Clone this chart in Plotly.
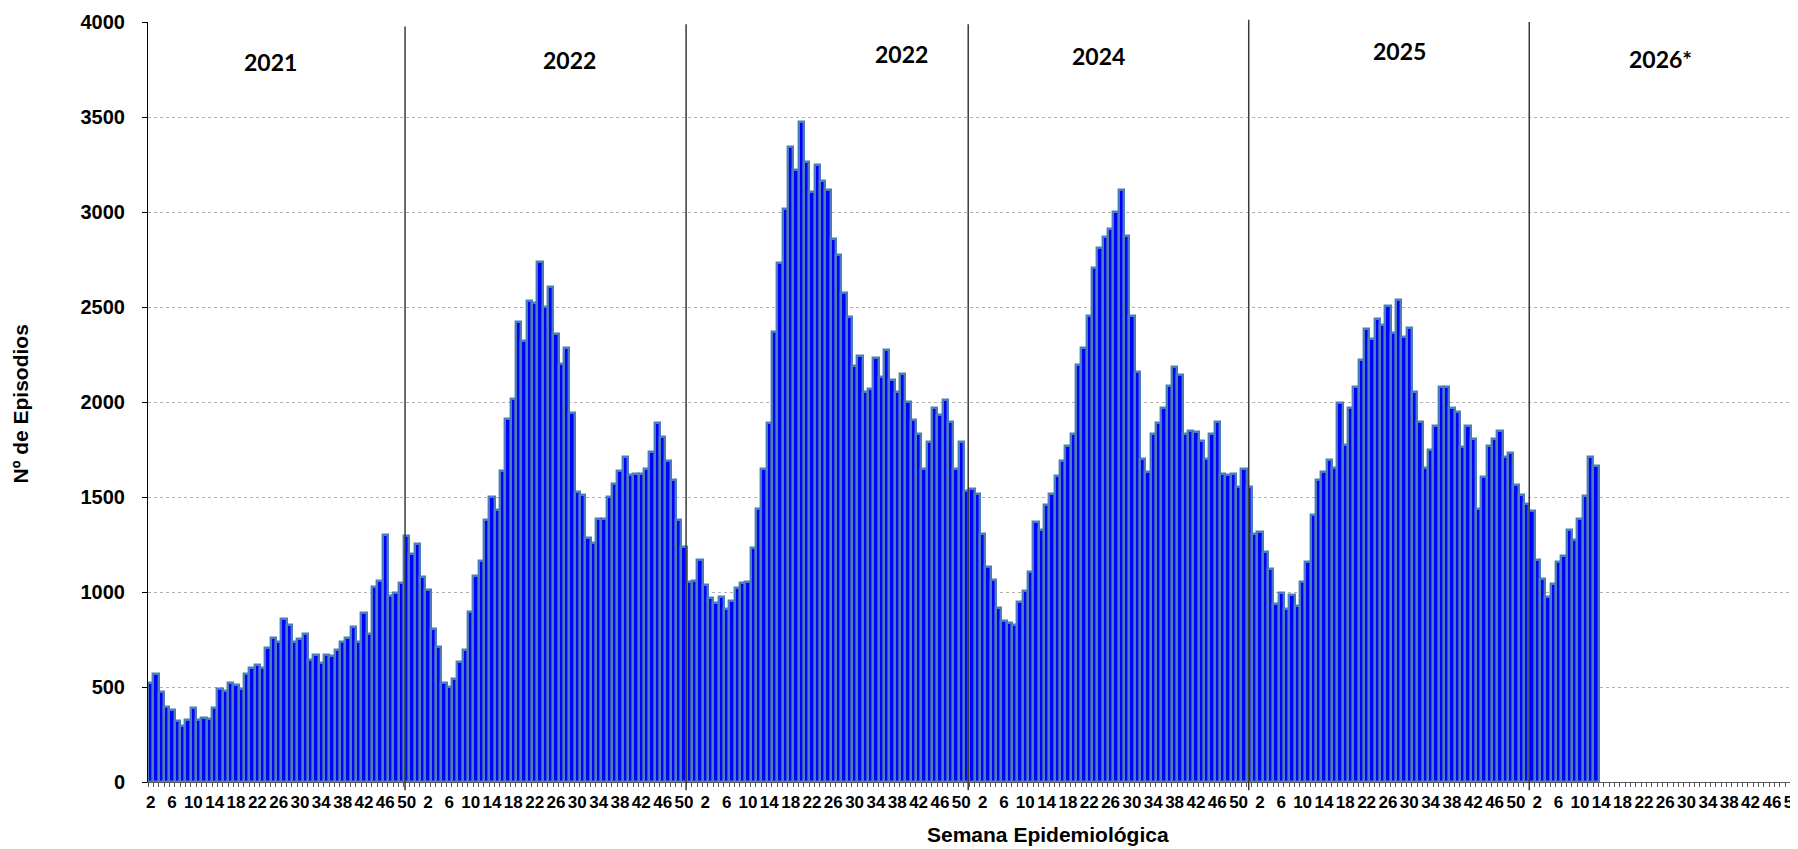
import plotly.graph_objects as go

# ---- data (weekly episodes) ----
years = ["2021", "2022", "2023", "2024", "2025", "2026"]
year_labels = ["2021", "2022", "2022", "2024", "2025", "2026*"]

weeks_2021 = list(range(2, 53))
weeks_full = list(range(1, 53))

cases_2021 = [521, 567, 474, 395, 381, 321, 296, 328, 388, 328, 339, 332, 388, 489, 479, 523, 511,
              489, 567, 598, 616, 602, 707, 760, 739, 858, 828, 735, 753, 777, 640, 668, 626, 668,
              661, 693, 735, 760, 816, 735, 891, 777, 1025, 1060, 1302, 977, 995, 1049, 1295, 1198, 1254]
cases_2022 = [1081, 1009, 806, 709, 521, 502, 543, 630, 694, 893, 1085, 1165, 1378, 1502, 1429, 1639,
              1912, 2017, 2419, 2320, 2532, 2523, 2735, 2498, 2607, 2359, 2199, 2284, 1940, 1524, 1513,
              1284, 1259, 1382, 1382, 1498, 1568, 1635, 1712, 1615, 1622, 1622, 1648, 1739, 1887, 1816,
              1690, 1592, 1378, 1239, 1053, 1060]
cases_2023 = [1169, 1036, 969, 944, 973, 911, 952, 1022, 1046, 1053, 1234, 1435, 1650, 1891, 2367, 2732,
              3014, 3341, 3220, 3476, 3263, 3104, 3249, 3162, 3114, 2857, 2775, 2575, 2447, 2191, 2242,
              2051, 2070, 2232, 2133, 2275, 2116, 2051, 2147, 2002, 1903, 1831, 1650, 1790, 1969, 1930,
              2010, 1894, 1650, 1792, 1534, 1542]
cases_2024 = [1514, 1303, 1129, 1061, 917, 847, 839, 826, 948, 1004, 1105, 1366, 1325, 1458, 1516, 1608,
              1691, 1769, 1830, 2196, 2283, 2455, 2706, 2808, 2871, 2911, 3000, 3115, 2876, 2455, 2157,
              1699, 1634, 1834, 1891, 1969, 2083, 2183, 2142, 1834, 1845, 1841, 1797, 1699, 1832, 1893,
              1623, 1617, 1623, 1553, 1649, 1553]
cases_2025 = [1306, 1315, 1210, 1119, 935, 995, 911, 984, 926, 1052, 1156, 1405, 1591, 1633, 1694, 1651,
              1993, 1772, 1969, 2081, 2222, 2382, 2331, 2439, 2403, 2506, 2363, 2539, 2342, 2389, 2051,
              1893, 1655, 1749, 1875, 2078, 2078, 1971, 1948, 1761, 1872, 1806, 1438, 1604, 1767, 1803,
              1848, 1709, 1734, 1564, 1510, 1465]
cases_2026 = [1425, 1167, 1068, 974, 1040, 1156, 1188, 1325, 1272, 1386, 1504, 1711, 1663]

# ---- build category axis ----
all_weeks = weeks_2021 + weeks_full * 5
values = cases_2021 + cases_2022 + cases_2023 + cases_2024 + cases_2025 + cases_2026
x_idx = list(range(len(values)))

tick_idx = list(range(0, len(all_weeks), 4))
tick_txt = [str(all_weeks[i]) for i in tick_idx]

# year separator positions (category units) and label placement
sep_pos = [47.7, 100.4, 153.3, 205.9, 258.5]
sep_top = [0.994, 0.997, 0.997, 1.003, 1.0]
label_x = [22.4, 78.6, 140.7, 177.8, 234.1, 283.2]
label_y = [3788, 3798, 3830, 3819, 3846, 3804]

fig = go.Figure()
fig.add_trace(go.Bar(
    x=x_idx, y=values,
    marker=dict(color="#0000ff", line=dict(color="#4a7ebb", width=2.4)),
    hoverinfo="y",
))

bold = dict(family="Liberation Sans, Arial, sans-serif", color="black", weight="bold")

fig.update_layout(
    width=1790, height=841,
    margin=dict(l=140, r=0, t=14, b=67, autoexpand=False),
    paper_bgcolor="white", plot_bgcolor="white",
    bargap=0, showlegend=False,
    xaxis=dict(
        range=[-0.5, 1650 / 5.333 - 0.5],
        automargin=False,
        tickmode="array", tickvals=tick_idx, ticktext=tick_txt,
        tickangle=0, ticks="", ticklabelstandoff=5,
        ticklabeloverflow="allow",
        tickfont=dict(size=17, **bold),
        showline=True, linecolor="#595959", linewidth=1,
        showgrid=False, zeroline=False,
        minor=dict(ticks="outside", ticklen=4, tickcolor="#595959",
                   tickmode="linear", tick0=-0.5, dtick=1, showgrid=False),
    ),
    yaxis=dict(
        range=[0, 4000], dtick=500, tick0=0,
        automargin=False,
        ticks="outside", ticklen=5, tickcolor="black",
        ticklabelstandoff=13,
        tickfont=dict(size=20, **bold),
        showline=True, linecolor="black", linewidth=1,
        showgrid=True, gridcolor="#b0b0b0", griddash="dot", gridwidth=1,
        zeroline=False,
    ),
)

for p, top in zip(sep_pos, sep_top):
    fig.add_shape(type="line", xref="x", yref="paper",
                  x0=p, x1=p, y0=-0.011, y1=top,
                  line=dict(color="#3a3a3a", width=1.5))

for t, lx, ly in zip(year_labels, label_x, label_y):
    fig.add_annotation(x=lx, y=ly, xref="x", yref="y", text=t, showarrow=False,
                       xanchor="center", yanchor="middle",
                       font=dict(family="Lato, Liberation Sans, sans-serif", size=23,
                                 color="black", weight="bold"))

fig.add_annotation(xref="paper", yref="paper", x=900 / 1650, y=(781.5 - 834) / 760,
                   xanchor="center", yanchor="middle",
                   text="Semana Epidemiológica", showarrow=False,
                   font=dict(size=21, **bold))
fig.add_annotation(xref="paper", yref="paper", x=(20 - 148) / 1650, y=(781.5 - 404) / 760,
                   xanchor="center", yanchor="middle",
                   text="Nº de Episodios", textangle=-90, showarrow=False,
                   font=dict(size=21, **bold))

fig.write_html("out.html")
